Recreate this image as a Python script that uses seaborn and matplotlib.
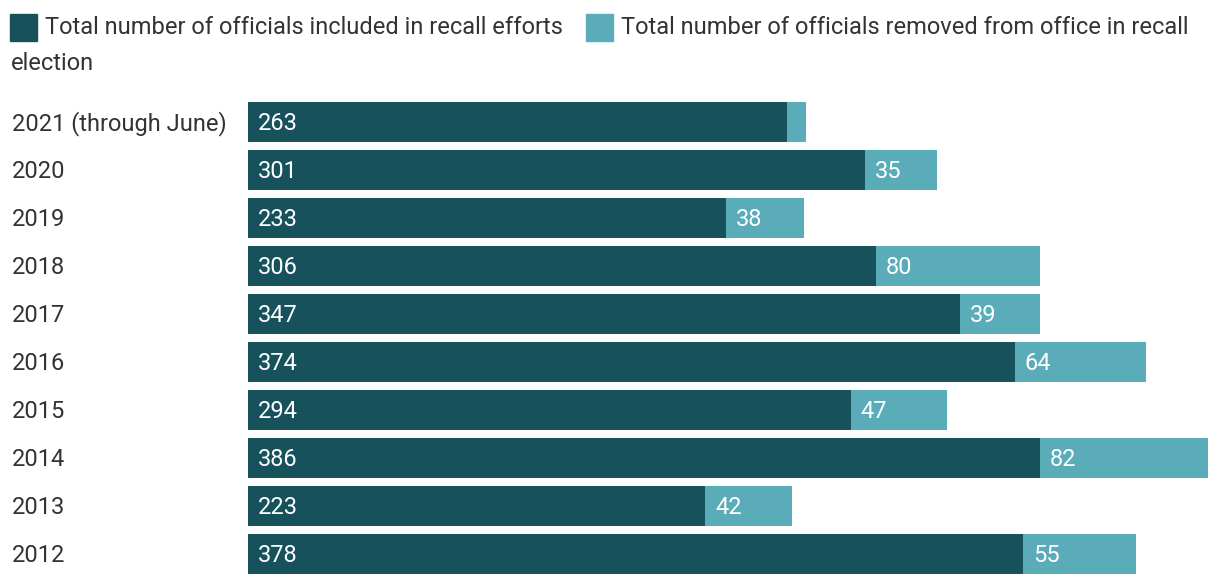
import pandas as pd
import matplotlib.pyplot as plt
import seaborn as sns
from matplotlib.patches import Rectangle

# Data
years = ['2021 (through June)', '2020', '2019', '2018', '2017',
         '2016', '2015', '2014', '2013', '2012']
included = [263, 301, 233, 306, 347, 374, 294, 386, 223, 378]
removed = [9, 35, 38, 80, 39, 64, 47, 82, 42, 55]

dark = '#17525c'
light = '#5aacb8'
text_color = '#333333'
fs = 17.0

df = pd.DataFrame({'year': years, 'included': included, 'removed': removed})
df['total'] = df['included'] + df['removed']

sns.set_style('white')
plt.rcParams['font.family'] = ['Roboto', 'DejaVu Sans']

fig = plt.figure(figsize=(12.2, 5.86), dpi=100)
ax = fig.add_axes([248 / 1220, 1 - 578 / 586, 960 / 1220, 480 / 586])

# Stacked bars: total in light, included on top in dark
sns.barplot(data=df, y='year', x='total', color=light, orient='h',
            width=0.833, ax=ax, saturation=1, linewidth=0)
sns.barplot(data=df, y='year', x='included', color=dark, orient='h',
            width=0.833, ax=ax, saturation=1, linewidth=0)

ax.set_xlim(0, 468)
ax.set_ylim(9.5, -0.5)
ax.set_xlabel('')
ax.set_ylabel('')
ax.set_xticks([])
ax.set_yticks([])
sns.despine(ax=ax, left=True, bottom=True)

# Labels: baseline placed ~8px under the bar centre so digits look centred
base_off = -5.8
for i, row in df.iterrows():
    ax.annotate(row['year'], (0, i), xycoords=ax.get_yaxis_transform(),
                xytext=(-236 * 0.72, base_off), textcoords='offset points',
                va='baseline', ha='left', color=text_color, fontsize=fs,
                annotation_clip=False)
    ax.annotate(str(row['included']), (0, i), xytext=(7, base_off),
                textcoords='offset points', va='baseline', ha='left',
                color='white', fontsize=fs)
    if row['removed'] >= 20:
        ax.annotate(str(row['removed']), (row['included'], i), xytext=(7, base_off),
                    textcoords='offset points', va='baseline', ha='left',
                    color='white', fontsize=fs)

# Legend drawn by hand (wraps to a second line)
W, H = 1220, 586
fig.patches.append(Rectangle((10 / W, 1 - 41 / H), 27 / W, 27 / H,
                             transform=fig.transFigure, color=dark))
fig.text(45 / W, 1 - 34 / H, 'Total number of officials included in recall efforts',
         fontsize=fs, color=text_color, va='baseline', ha='left')
fig.patches.append(Rectangle((586 / W, 1 - 41 / H), 27 / W, 27 / H,
                             transform=fig.transFigure, color=light))
fig.text(621 / W, 1 - 34 / H, 'Total number of officials removed from office in recall',
         fontsize=fs, color=text_color, va='baseline', ha='left')
fig.text(11 / W, 1 - 70 / H, 'election', fontsize=fs, color=text_color,
         va='baseline', ha='left')

fig.savefig('out.png', dpi=100)
